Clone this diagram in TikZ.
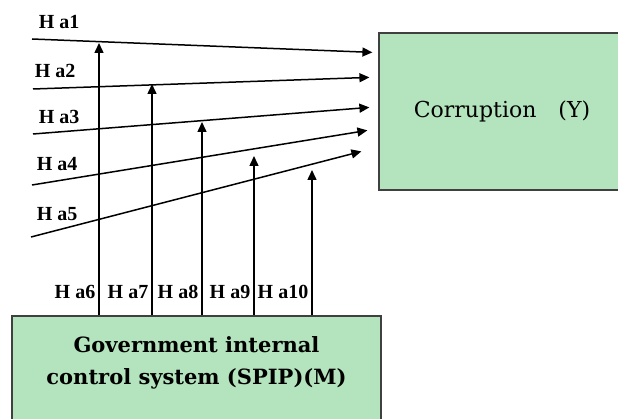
\documentclass[tikz,border=0pt]{standalone}
\usepackage{fontspec}
\setmainfont{Liberation Serif}
\newfontfamily\wideserif{DejaVu Serif}
\usetikzlibrary{arrows.meta}
\definecolor{boxgreen}{RGB}{180,228,190}
\tikzset{
  box/.style={draw=black!75, line width=1.2pt, fill=boxgreen, inner sep=0pt},
  hyp/.style={font=\fontsize{20}{22}\selectfont\bfseries, inner sep=1pt},
}
\begin{document}
\begin{tikzpicture}[x=1pt, y=-1pt, line width=1.5pt, >={Triangle[length=10pt,width=9pt]}]
   \useasboundingbox (0,0) rectangle (618,419);
   \clip (0,0) rectangle (618,419);
   \node (Y) [box, minimum width=246pt, minimum height=157pt,
              font=\wideserif\fontsize{22}{24}\selectfont] at (502,111.5)
     {Corruption\quad(Y)};
   \node (M) [box, minimum width=369pt, minimum height=114pt, align=center,
              text depth=24pt, font=\wideserif\bfseries\fontsize{21}{32}\selectfont]
              at (196.5,373)
     {Government internal\\control system (SPIP)(M)};
   \coordinate (s1) at (32,39);
   \coordinate (s2) at (33,89);
   \coordinate (s3) at (33,134);
   \coordinate (s4) at (32,185);
   \coordinate (s5) at (31,237);
   \coordinate (t1) at (99,43);
   \coordinate (t2) at (152,84);
   \coordinate (t3) at (202,122);
   \coordinate (t4) at (254,156);
   \coordinate (t5) at (312,170);
   \node (h1) [hyp, anchor=west] at (37,22)  {H a1};
   \node (h2) [hyp, anchor=west] at (33,71)  {H a2};
   \node (h3) [hyp, anchor=west] at (37,117) {H a3};
   \node (h4) [hyp, anchor=west] at (35,164) {H a4};
   \node (h5) [hyp, anchor=west] at (35,214) {H a5};
   \node (h6)  [hyp, anchor=east] at (97,292)  {H a6};
   \node (h7)  [hyp, anchor=east] at (150,292) {H a7};
   \node (h8)  [hyp, anchor=east] at (200,292) {H a8};
   \node (h9)  [hyp, anchor=east] at (252,292) {H a9};
   \node (h10) [hyp, anchor=east] at (310,292) {H a10};
   \path[->]
     (s1) edge ([shift={(-6,20)}]Y.north west)
     (s2) edge ([shift={(-9,45)}]Y.north west)
     (s3) edge ([shift={(-9,75)}]Y.north west)
     (s4) edge ([shift={(-11,98)}]Y.north west)
     (s5) edge ([shift={(-17,119)}]Y.north west);
   \path[->]
     (M.north -| t1) edge (t1)
     (M.north -| t2) edge (t2)
     (M.north -| t3) edge (t3)
     (M.north -| t4) edge (t4)
     (M.north -| t5) edge (t5);
\end{tikzpicture}
\end{document}
